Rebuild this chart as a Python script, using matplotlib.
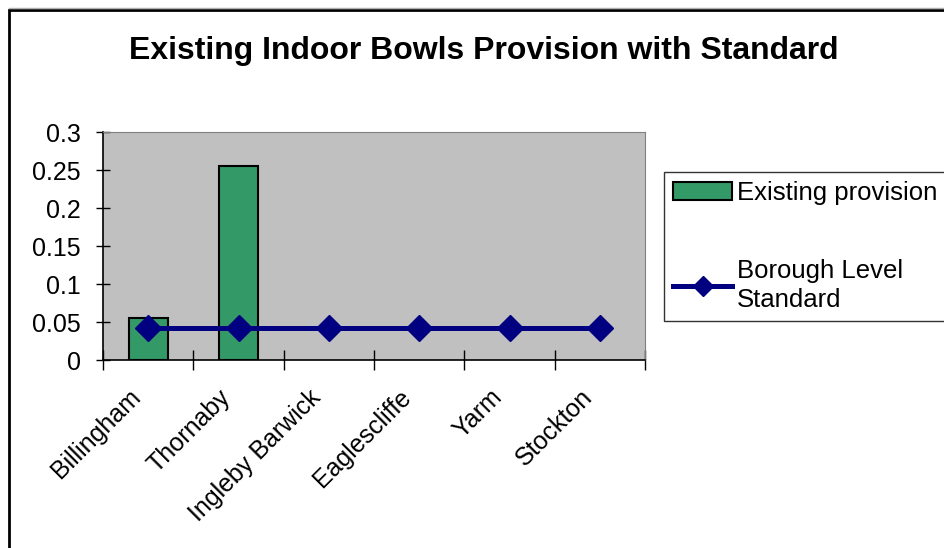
import numpy as np
import matplotlib
matplotlib.use("Agg")
import matplotlib.pyplot as plt
from matplotlib.patches import Rectangle
from matplotlib.lines import Line2D
from matplotlib.transforms import ScaledTranslation

# data
towns = ["Billingham", "Thornaby", "Ingleby Barwick", "Eaglescliffe", "Yarm", "Stockton"]
existing = [0.055, 0.255, 0, 0, 0, 0]
standard = [0.042, 0.042, 0.042, 0.042, 0.042, 0.042]

plt.rcParams['font.family'] = ['Liberation Sans', 'DejaVu Sans']

W, H = 944, 548
fig = plt.figure(figsize=(W / 100, H / 100), dpi=100)

# outer chart frame (runs off right and bottom edge)
fig.add_artist(Line2D([9 / W, 1], [1 - 8 / H, 1 - 8 / H], color="#b0b0b0", lw=1))
fig.add_artist(Rectangle((9 / W, -0.1), 1.0, 1 - 10 / H + 0.1, transform=fig.transFigure,
                         fill=False, edgecolor="black", lw=2))

ax = fig.add_axes([103 / W, 1 - 360 / H, 542 / W, 228 / H])
ax.set_facecolor("#c0c0c0")

x = np.arange(len(towns))
ex = np.array(existing)
# zero bars are not drawn in the original (no outline on the axis)
ax.bar(x[ex > 0], ex[ex > 0], width=0.43, color="#339966", edgecolor="black", lw=1.5,
       label="Existing provision", zorder=2)
ax.plot(x, standard, color="#000080", lw=3.6, marker="D", markersize=13,
        label="Borough Level\nStandard", zorder=3)

ax.set_xlim(-0.5, len(towns) - 0.5)
ax.set_ylim(0, 0.3)
ax.set_yticks([0, 0.05, 0.1, 0.15, 0.2, 0.25, 0.3])
ax.set_yticklabels(["0", "0.05", "0.1", "0.15", "0.2", "0.25", "0.3"], fontsize=18)
ax.tick_params(axis="y", direction="inout", length=10, width=1, pad=11)

# boundary ticks without labels, labels on the category centres
ax.set_xticks(np.arange(len(towns) + 1) - 0.5)
ax.set_xticklabels([])
ax.tick_params(axis="x", which="major", direction="inout", length=14, width=1)
ax.set_xticks(x, minor=True)
ax.set_xticklabels(towns, minor=True, rotation=45, ha="right", rotation_mode="anchor",
                   fontsize=18)
ax.tick_params(axis="x", which="minor", length=0, pad=18)
shift = ScaledTranslation(-20 / 100, 0, fig.dpi_scale_trans)
for lab in ax.get_xticklabels(minor=True):
    lab.set_transform(lab.get_transform() + shift)

for s in ["top", "right"]:
    ax.spines[s].set_color("#808080")
for s in ["left", "bottom"]:
    ax.spines[s].set_color("black")
    ax.spines[s].set_linewidth(1.2)

fig.text(484 / W, 1 - 51 / H, "Existing Indoor Bowls Provision with Standard",
         ha="center", va="center", fontsize=23, fontweight="bold")

handles, labels = ax.get_legend_handles_labels()
leg = fig.legend(handles[::-1], labels[::-1], loc="upper left",
                 bbox_to_anchor=(664 / W, 1 - 172 / H), fontsize=18.5, frameon=True,
                 fancybox=False, edgecolor="black", handlelength=2.3, handletextpad=0.2,
                 labelspacing=2.1, borderpad=0.35, borderaxespad=0)
leg.get_frame().set_linewidth(1)
for t in leg.get_texts():
    t.set_linespacing(1.25)
for h in leg.legend_handles:
    if isinstance(h, Line2D):
        h.set_markersize(10)

fig.savefig("out.png", dpi=100)
